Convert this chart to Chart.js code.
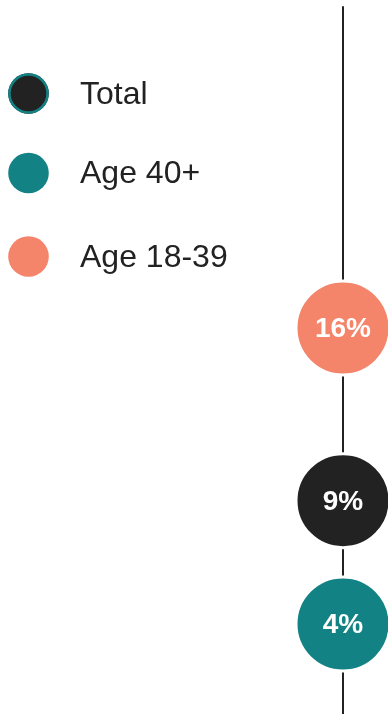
<!DOCTYPE html>
<html>
<head>
<meta charset="utf-8">
<title>Age groups</title>
<script src="https://cdn.jsdelivr.net/npm/chart.js@4.4.1/dist/chart.umd.min.js"></script>
<style>
  html, body { margin: 0; padding: 0; background: #fff; }
  #wrap { width: 388px; height: 714px; }
</style>
</head>
<body>
<div id="wrap"><canvas id="chart" width="388" height="714"></canvas></div>
<script>
// groups in legend order
const groups = ['Total', 'Age 40+', 'Age 18-39'];
const shares = [9, 4, 16]; // percent
const groupColors = ['#222222', '#138284', '#f4846a'];
const legendBorders = ['#138284', null, null];

// extent of the vertical guide line and of the y scale
const guideRange = [0, 29.05];
const yRange = [0.35, 29.3];

const FONT = '"Liberation Sans", Arial, Helvetica, sans-serif';

// percentage text inside each circle
const valueLabels = {
    id: 'valueLabels',
    afterDatasetsDraw(chart) {
        const ctx = chart.ctx;
        ctx.save();
        ctx.fillStyle = '#ffffff';
        ctx.font = 'bold 28px ' + FONT;
        ctx.textAlign = 'center';
        ctx.textBaseline = 'middle';
        chart.data.datasets.forEach((ds, i) => {
            if (!ds.isGroup) return;
            chart.getDatasetMeta(i).data.forEach((pt, j) => {
                ctx.fillText(ds.data[j].y + '%', pt.x, pt.y + 1.5);
            });
        });
        ctx.restore();
    }
};

// legend: big dots with labels, stacked on the left
const dotLegend = {
    id: 'dotLegend',
    afterDraw(chart, args, opts) {
        const ctx = chart.ctx;
        ctx.save();
        ctx.font = opts.fontSize + 'px ' + FONT;
        ctx.textBaseline = 'middle';
        ctx.textAlign = 'left';
        let k = 0;
        chart.data.datasets.forEach((ds, i) => {
            if (!ds.isGroup) return;
            const y = opts.rows[k++];
            ctx.beginPath();
            ctx.arc(opts.x, y, opts.radius, 0, Math.PI * 2);
            ctx.fillStyle = ds.pointBackgroundColor;
            ctx.fill();
            if (ds.legendBorder) {
                ctx.lineWidth = 2.5;
                ctx.strokeStyle = ds.legendBorder;
                ctx.beginPath();
                ctx.arc(opts.x, y, opts.radius - 1.25, 0, Math.PI * 2);
                ctx.stroke();
            }
            ctx.fillStyle = '#222222';
            ctx.fillText(ds.label, opts.textX, y + 1.5);
        });
        ctx.restore();
    }
};

const datasets = groups.map((name, i) => ({
    label: name,
    isGroup: true,
    legendBorder: legendBorders[i],
    data: [{ x: 0, y: shares[i] }],
    pointRadius: 47,
    pointHoverRadius: 47,
    pointBorderWidth: 3,
    pointBorderColor: '#ffffff',
    pointBackgroundColor: groupColors[i],
    clip: false,
    order: 0
}));

// the vertical line sits underneath the circles
datasets.push({
    label: 'guide',
    data: guideRange.map(v => ({ x: 0, y: v })),
    showLine: true,
    borderColor: '#222222',
    borderWidth: 2,
    pointRadius: 0,
    order: 1
});

new Chart(document.getElementById('chart'), {
    type: 'scatter',
    data: { datasets: datasets },
    options: {
        responsive: false,
        animation: false,
        events: [],
        layout: { padding: 0, autoPadding: false },
        scales: {
            x: { type: 'linear', min: -343, max: 45, display: false },
            y: { type: 'linear', min: yRange[0], max: yRange[1], display: false }
        },
        plugins: {
            legend: { display: false },
            tooltip: { enabled: false },
            dotLegend: { x: 28.5, rows: [93.5, 173, 256.5], radius: 20.3, textX: 80, fontSize: 32 }
        }
    },
    plugins: [valueLabels, dotLegend]
});
</script>
</body>
</html>
